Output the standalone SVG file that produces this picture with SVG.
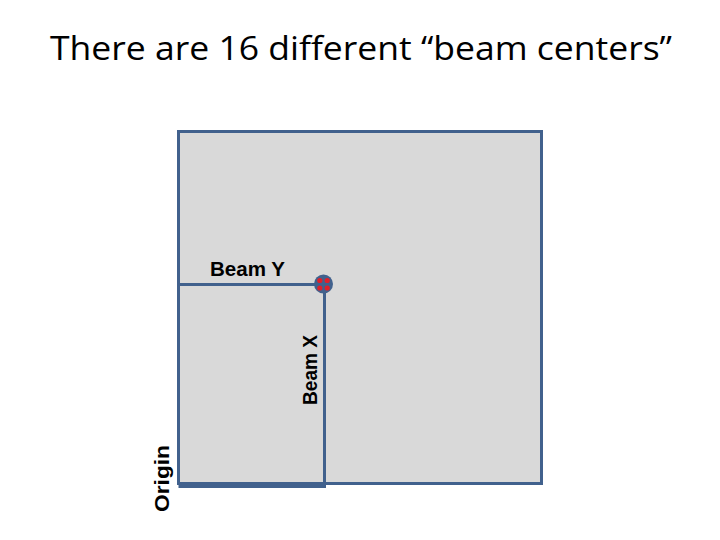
<svg xmlns="http://www.w3.org/2000/svg" width="720" height="540" viewBox="0 0 720 540">
<style>
.box{fill:#d9d9d9;stroke:#41618d;stroke-width:3}
.ln{fill:none;stroke:#41618d;stroke-width:3}
.lbl{font-family:"Liberation Sans",Arial,sans-serif;font-weight:bold;font-size:20px;fill:#000}
.title{font-family:"Open Sans","Noto Sans",sans-serif;font-size:32px;fill:#000}
.dot{fill:#e0202a}
</style>
<rect width="720" height="540" fill="#fff"/>
<text class="title" x="361" y="60" text-anchor="middle" textLength="622" lengthAdjust="spacingAndGlyphs">There are 16 different “beam centers”</text>
<g id="detector">
<rect class="box" x="178.5" y="131.5" width="363" height="352"/>
</g>
<g id="connectors">
<path class="ln" d="M178.5 284.5 H323 M324.5 284 V486.5 H178.5"/>
</g>
<g id="beam-center">
<circle cx="323.5" cy="284" r="9.5" fill="#41618d"/>
<circle class="dot" cx="319.8" cy="280.5" r="2.6"/>
<circle class="dot" cx="327.2" cy="280.5" r="2.6"/>
<circle class="dot" cx="319.8" cy="288" r="2.6"/>
<circle class="dot" cx="327.2" cy="288" r="2.6"/>
</g>
<g id="labels">
<text class="lbl" x="210" y="276" textLength="75" lengthAdjust="spacingAndGlyphs">Beam Y</text>
<text class="lbl" transform="translate(317,405) rotate(-90)" textLength="70" lengthAdjust="spacingAndGlyphs">Beam X</text>
<text class="lbl" transform="translate(169,512) rotate(-90)" textLength="67" lengthAdjust="spacingAndGlyphs">Origin</text>
</g>
</svg>
